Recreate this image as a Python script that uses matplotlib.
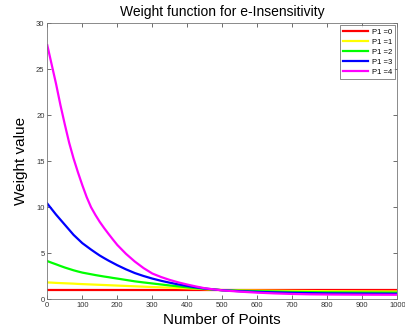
import matplotlib
matplotlib.use("Agg")
import matplotlib.pyplot as plt

plt.rcParams['font.family'] = ['Liberation Sans', 'DejaVu Sans']

x_points = [0, 12.5, 25, 37.5, 50, 62.5, 75, 87.5, 100, 112.5, 125, 137.5, 150, 162.5, 175, 187.5, 200,
            225, 250, 275, 300, 325, 350, 375, 400, 425, 450, 475, 500,
            550, 600, 650, 700, 750, 800, 850, 900, 950, 1000]
w_p0 = [1.0] * 39
w_p1 = [1.83, 1.81, 1.78, 1.76, 1.74, 1.72, 1.70, 1.67, 1.65, 1.63, 1.61, 1.59, 1.57, 1.55, 1.53, 1.51, 1.49,
        1.45, 1.41, 1.37, 1.33, 1.30, 1.26, 1.23, 1.19, 1.15, 1.10, 1.05, 1.00,
        0.97, 0.95, 0.93, 0.91, 0.895, 0.88, 0.87, 0.86, 0.855, 0.85]
w_p2 = [4.15, 3.97, 3.80, 3.62, 3.45, 3.30, 3.15, 3.02, 2.90, 2.81, 2.72, 2.63, 2.55, 2.47, 2.40, 2.32, 2.25,
        2.10, 1.95, 1.83, 1.72, 1.61, 1.50, 1.40, 1.30, 1.21, 1.13, 1.06, 0.99,
        0.93, 0.88, 0.84, 0.80, 0.78, 0.76, 0.75, 0.74, 0.735, 0.73]
w_p3 = [10.4, 9.8, 9.2, 8.65, 8.1, 7.55, 7.0, 6.55, 6.1, 5.75, 5.4, 5.07, 4.75, 4.47, 4.2, 3.95, 3.7,
        3.25, 2.85, 2.53, 2.25, 2.01, 1.80, 1.61, 1.45, 1.30, 1.17, 1.07, 0.98,
        0.88, 0.80, 0.75, 0.70, 0.67, 0.64, 0.63, 0.62, 0.61, 0.60]
w_p4 = [27.6, 25.5, 23.4, 21.1, 19.0, 17.0, 15.3, 13.8, 12.4, 11.1, 10.0, 9.16, 8.4, 7.73, 7.1, 6.49, 5.9,
        4.93, 4.1, 3.39, 2.8, 2.42, 2.1, 1.83, 1.6, 1.39, 1.2, 1.08, 0.97,
        0.83, 0.72, 0.64, 0.58, 0.54, 0.52, 0.51, 0.50, 0.495, 0.49]

series = [w_p0, w_p1, w_p2, w_p3, w_p4]
labels = ['P1 =0', 'P1 =1', 'P1 =2', 'P1 =3', 'P1 =4']
colors = ['#ff0000', '#ffff00', '#00ff00', '#0000ff', '#ff00ff']

x_ticks = [0, 100, 200, 300, 400, 500, 600, 700, 800, 900, 1000]
y_ticks = [0, 5, 10, 15, 20, 25, 30]

fig = plt.figure(figsize=(4.06, 3.35), dpi=100)
ax = fig.add_axes([0.1165, 0.1066, 0.8621, 0.8244])

for ys, lab, c in zip(series, labels, colors):
    ax.plot(x_points, ys, color=c, linewidth=1.6, label=lab, solid_joinstyle='round')

ax.set_xlim(0, 1000)
ax.set_ylim(0, 30)
ax.set_xticks(x_ticks)
ax.set_yticks(y_ticks)
ax.tick_params(direction='in', length=3, width=0.5, labelsize=5.5, colors='#333333',
               top=True, right=True, pad=2)
for s in ax.spines.values():
    s.set_color('#777777')
    s.set_linewidth(0.6)

ax.set_title('Weight function for e-Insensitivity', fontsize=10, pad=5)
ax.set_xlabel('Number of Points', fontsize=11, labelpad=3)
ax.set_ylabel('Weight value', fontsize=11, labelpad=6)

leg = ax.legend(loc='upper right', fontsize=5.5, frameon=True, fancybox=False,
                borderpad=0.4, handlelength=3.2, handletextpad=0.5, labelspacing=0.35,
                borderaxespad=0.3)
leg.get_frame().set_edgecolor('#555555')
leg.get_frame().set_linewidth(0.6)

fig.savefig('out.png', dpi=100)
